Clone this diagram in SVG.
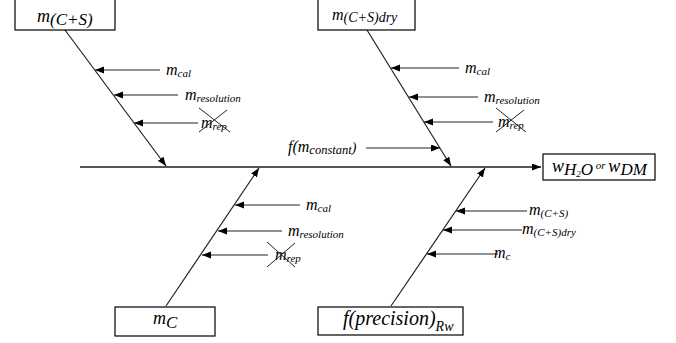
<svg xmlns="http://www.w3.org/2000/svg" width="676" height="343" viewBox="0 0 676 343">
<style>
.box{fill:#fff;stroke:#000;stroke-width:1.2}
.ln{stroke:#222;stroke-width:1.2;fill:none}
.main{stroke:#555;stroke-width:1.8;fill:none}
.x{stroke:#222;stroke-width:1;fill:none}
.lb{font-size:16px}
.sb{font-size:11px}
</style>
<defs>
<marker id="ah" markerUnits="userSpaceOnUse" markerWidth="10" markerHeight="8" refX="9" refY="3.5" orient="auto">
<path d="M0,0 L9,3.5 L0,7 z" fill="#000"/>
</marker>
</defs>
<rect width="676" height="343" fill="#fff"/>

<g id="connectors">
<line class="main" x1="80" y1="167" x2="541" y2="167" marker-end="url(#ah)"/>
<line class="ln" x1="65" y1="30" x2="166" y2="166" marker-end="url(#ah)"/>
<line class="ln" x1="367" y1="30" x2="451" y2="166" marker-end="url(#ah)"/>
<line class="ln" x1="166" y1="306" x2="259" y2="168" marker-end="url(#ah)"/>
<line class="ln" x1="391" y1="306" x2="485" y2="168" marker-end="url(#ah)"/>
<line class="ln" x1="160" y1="70" x2="95" y2="70" marker-end="url(#ah)"/>
<line class="ln" x1="178" y1="95" x2="114" y2="95" marker-end="url(#ah)"/>
<line class="ln" x1="198" y1="123" x2="134" y2="123" marker-end="url(#ah)"/>
<line class="ln" x1="459" y1="68" x2="391" y2="68" marker-end="url(#ah)"/>
<line class="ln" x1="478" y1="97" x2="409" y2="97" marker-end="url(#ah)"/>
<line class="ln" x1="493" y1="122" x2="424" y2="122" marker-end="url(#ah)"/>
<line class="ln" x1="366" y1="148" x2="440" y2="148" marker-end="url(#ah)"/>
<line class="ln" x1="300" y1="205" x2="235" y2="205" marker-end="url(#ah)"/>
<line class="ln" x1="282" y1="231" x2="218" y2="231" marker-end="url(#ah)"/>
<line class="ln" x1="268" y1="255" x2="202" y2="255" marker-end="url(#ah)"/>
<line class="ln" x1="527" y1="211" x2="456" y2="211" marker-end="url(#ah)"/>
<line class="ln" x1="522" y1="230" x2="443" y2="230" marker-end="url(#ah)"/>
<line class="ln" x1="498" y1="254" x2="427" y2="254" marker-end="url(#ah)"/>
</g>

<g id="labels" font-family="Liberation Serif, serif" font-style="italic" fill="#000">
<text x="166" y="75" class="lb">m<tspan class="sb" dy="2">cal</tspan></text>
<text x="185" y="100" class="lb">m<tspan class="sb" dy="2">resolution</tspan></text>
<text x="201" y="128" class="lb">m<tspan class="sb" dy="2">rep</tspan></text>
<path class="x" d="M199,108 L230,132 M199,132 L227,110"/>

<text x="465" y="73" class="lb">m<tspan class="sb" dy="2">cal</tspan></text>
<text x="484" y="102" class="lb">m<tspan class="sb" dy="2">resolution</tspan></text>
<text x="498" y="127" class="lb">m<tspan class="sb" dy="2">rep</tspan></text>
<path class="x" d="M496,108 L526,132 M496,132 L524,110"/>

<text x="288" y="152" class="lb">f(m<tspan font-size="12.5" dy="2">constant</tspan><tspan dy="-2" font-size="14">)</tspan></text>

<text x="306" y="210" class="lb">m<tspan class="sb" dy="2">cal</tspan></text>
<text x="288" y="236" class="lb">m<tspan class="sb" dy="2">resolution</tspan></text>
<text x="275" y="260" class="lb">m<tspan class="sb" dy="2">rep</tspan></text>
<path class="x" d="M267,242 L295,267 M267,267 L295,243"/>

<text x="529" y="215" class="lb">m<tspan class="sb" dy="2">(C+S)</tspan></text>
<text x="522" y="234" class="lb">m<tspan class="sb" dy="2">(C+S)dry</tspan></text>
<text x="494" y="258" class="lb">m<tspan class="sb" dy="2">c</tspan></text>
</g>

<g id="node-mCS" font-family="Liberation Serif, serif" font-style="italic">
<rect class="box" x="15" y="-1" width="100" height="31"/>
<text x="37" y="22" font-size="18">m<tspan dy="3" font-size="17">(C+S)</tspan></text>
</g>

<g id="node-mCSdry" font-family="Liberation Serif, serif" font-style="italic">
<rect class="box" x="318" y="-1" width="97" height="31"/>
<text x="332" y="20" font-size="16">m<tspan dy="2" font-size="14">(C+S)dry</tspan></text>
</g>

<g id="node-w" font-family="Liberation Serif, serif" font-style="italic">
<rect class="box" x="543" y="154" width="112" height="26"/>
<text x="552" y="172" font-size="18">w<tspan dy="3" font-size="17">H</tspan><tspan dy="2" font-size="9">2</tspan><tspan dy="-2" font-size="17">O</tspan><tspan dy="-6" font-size="11"> or </tspan><tspan dy="3" font-size="18">w</tspan><tspan dy="3" font-size="17">DM</tspan></text>
</g>

<g id="node-mC" font-family="Liberation Serif, serif" font-style="italic">
<rect class="box" x="115" y="307" width="100" height="29"/>
<text x="153" y="324" font-size="18">m<tspan dy="4" font-size="17">C</tspan></text>
</g>

<g id="node-fprec" font-family="Liberation Serif, serif" font-style="italic">
<rect class="box" x="318" y="307" width="145" height="28"/>
<text x="343" y="325" font-size="20">f(precision)<tspan dy="6" font-size="14">Rw</tspan></text>
</g>
</svg>
